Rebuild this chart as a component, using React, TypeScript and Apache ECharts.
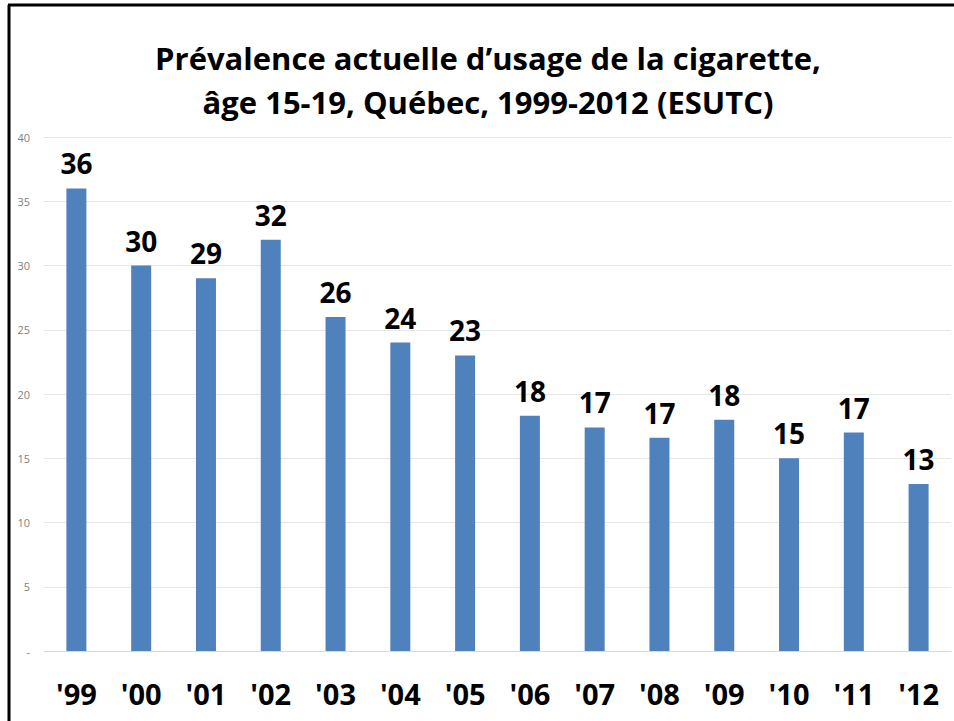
import React, { useEffect, useRef } from "react";
import * as echarts from "echarts";

const categories = ["'99", "'00", "'01", "'02", "'03", "'04", "'05", "'06", "'07", "'08", "'09", "'10", "'11", "'12"];
const prevalence = [36, 30, 29, 32, 26, 24, 23, 18.3, 17.4, 16.6, 18, 15, 17, 13];
const yTicks = [0, 5, 10, 15, 20, 25, 30, 35, 40];
const titleText = "Prévalence actuelle d’usage de la cigarette,\nâge 15-19, Québec, 1999-2012 (ESUTC)";

export default function App() {
  const ref = useRef<HTMLDivElement>(null);
  useEffect(() => {
    if (!ref.current) return;
    const chart = echarts.init(ref.current, null, { renderer: "svg" });
    const font = "'Open Sans', 'Noto Sans', sans-serif";
    chart.setOption({
      animation: false,
      backgroundColor: "#ffffff",
      title: {
        text: titleText,
        left: 483,
        textAlign: "center",
        top: 31,
        textStyle: { fontFamily: font, fontWeight: "bold", fontSize: 31, lineHeight: 44, color: "#000" },
      },
      graphic: [
        { type: "line", shape: { x1: 9, y1: 5, x2: 9, y2: 721 }, style: { stroke: "#000", lineWidth: 3 } },
        { type: "line", shape: { x1: 8, y1: 5, x2: 954, y2: 5 }, style: { stroke: "#000", lineWidth: 3 } },
      ],
      grid: { left: 44, right: 3, top: 137, bottom: 70, containLabel: false },
      xAxis: {
        type: "category",
        data: categories,
        axisLine: { show: true, lineStyle: { color: "#d9d9d9", width: 1 } },
        axisTick: { show: false },
        axisLabel: { margin: 28, fontFamily: font, fontWeight: "bold", fontSize: 29, color: "#000" },
      },
      yAxis: {
        type: "value",
        min: yTicks[0],
        max: yTicks[yTicks.length - 1],
        interval: 5,
        axisLine: { show: false },
        axisTick: { show: false },
        splitLine: { lineStyle: { color: "#e6e6e6", width: 1 } },
        axisLabel: {
          margin: 14,
          fontFamily: font,
          fontSize: 11,
          color: "#7f7f7f",
          formatter: (v: number) => (v === 0 ? "-" : String(v)),
        },
      },
      series: [
        {
          type: "bar",
          data: prevalence,
          barWidth: 20,
          itemStyle: { color: "#4f81bd" },
          label: {
            show: true,
            position: "top",
            distance: 11,
            fontFamily: font,
            fontWeight: "bold",
            fontSize: 28,
            color: "#000",
            formatter: (p: any) => String(Math.round(p.value)),
          },
        },
      ],
    });
    return () => chart.dispose();
  }, []);
  return (
    <div style={{ position: "fixed", left: 0, top: 0, width: 954, height: 721, background: "#fff" }}>
      <div ref={ref} style={{ width: 954, height: 721 }} />
    </div>
  );
}
